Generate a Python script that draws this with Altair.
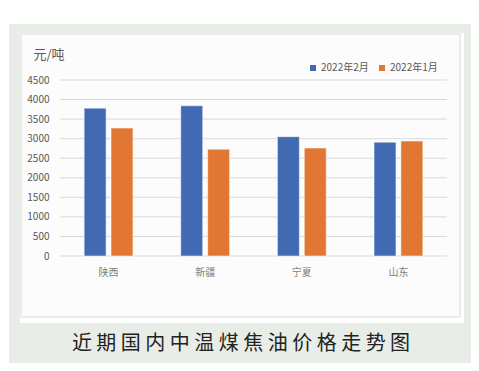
import altair as alt
import pandas as pd

regions = ["陕西", "新疆", "宁夏", "山东"]
series = ["2022年2月", "2022年1月"]
feb_values = [3780, 3840, 3050, 2910]
jan_values = [3270, 2730, 2760, 2940]
y_ticks = [0, 500, 1000, 1500, 2000, 2500, 3000, 3500, 4000, 4500]
chart_title = "近期国内中温煤焦油价格走势图"
unit = "元/吨"

rows = []
for r, f, j in zip(regions, feb_values, jan_values):
    rows.append({"region": r, "series": series[0], "value": f})
    rows.append({"region": r, "series": series[1], "value": j})
df = pd.DataFrame(rows)
grid_df = pd.DataFrame({"v": y_ticks})

FONT = "Noto Sans CJK SC"
W, H = 387, 176
yscale = alt.Scale(domain=[0, 4500], nice=False)
yaxis = alt.Axis(values=y_ticks, format="d", title=unit, titleAngle=0, titleAlign="left",
                 titleBaseline="middle", titleX=-27, titleY=-26,
                 titleFont=FONT, titleFontSize=13, titleFontWeight="normal",
                 titleColor="#595959",
                 labelFont=FONT, labelFontSize=10, labelColor="#595959",
                 labelPadding=11, ticks=False, domain=False, grid=False,
                 zindex=1)

# decorative background layers (pixel positions relative to plot area)
panel = alt.Chart(pd.DataFrame({"a": [0]})).mark_rect(color="#E8EEE7", clip=False).encode(
    x=alt.value(-51), x2=alt.value(416), y=alt.value(-56), y2=alt.value(287))
paper = alt.Chart(pd.DataFrame({"a": [0]})).mark_rect(color="#FFFFFF", clip=False).encode(
    x=alt.value(-40), x2=alt.value(404), y=alt.value(-47), y2=alt.value(243))
box = alt.Chart(pd.DataFrame({"a": [0]})).mark_rect(
    color="#FCFCFC", stroke="#D9D9D9", strokeWidth=1, clip=False).encode(
    x=alt.value(-39), x2=alt.value(400), y=alt.value(-46), y2=alt.value(237))
title = alt.Chart(pd.DataFrame({"t": [" ".join(chart_title)]})).mark_text(
    font=FONT, fontSize=20, color="#222222", align="center", baseline="middle", clip=False
).encode(x=alt.value(181), y=alt.value(264), text="t:N")

grid = alt.Chart(grid_df).mark_rule(color="#D9D9D9", strokeWidth=1).encode(
    y=alt.Y("v:Q", scale=yscale, axis=yaxis),
    x=alt.value(0), x2=alt.value(W))

bars = alt.Chart(df).mark_bar(stroke="#FCFCFC", strokeWidth=0.5).encode(
    x=alt.X("region:N", sort=regions,
            scale=alt.Scale(paddingInner=0.495, paddingOuter=0.25),
            axis=alt.Axis(title=None, labelAngle=0, labelFont=FONT, labelFontSize=10,
                          labelColor="#7F7F7F", ticks=False, domain=False, labelPadding=11,
                          zindex=1)),
    xOffset=alt.XOffset("series:N", sort=series,
                        scale=alt.Scale(paddingInner=0.185, paddingOuter=0)),
    y=alt.Y("value:Q", scale=yscale, axis=yaxis),
    color=alt.Color("series:N", sort=series,
                    scale=alt.Scale(domain=series, range=["#416AB2", "#E27734"]),
                    legend=alt.Legend(title=None, orient="none", legendX=248, legendY=-17,
                                      direction="horizontal", symbolType="square",
                                      symbolSize=36, symbolStrokeWidth=0,
                                      labelFont=FONT, labelFontSize=10,
                                      labelColor="#595959", labelOffset=3,
                                      columnPadding=8)),
)

chart = alt.layer(panel, paper, box, title, grid, bars).properties(
    width=W, height=H,
    autosize=alt.AutoSizeParams(type="none"),
    padding={"left": 52, "top": 72, "right": 24, "bottom": 107},
    background="#FFFFFF",
).configure_view(stroke=None)

chart.save("out.html", embed_options={"renderer": "svg", "actions": False})
